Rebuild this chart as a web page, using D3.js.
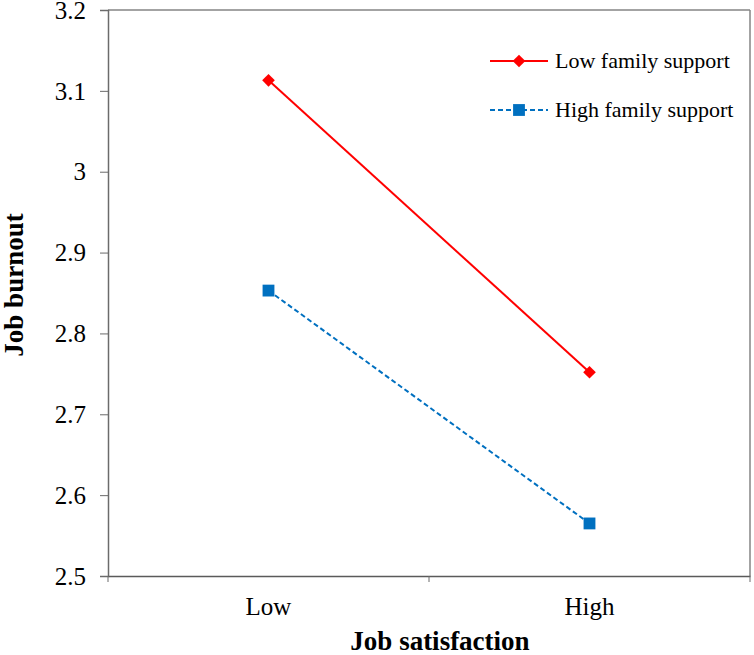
<!DOCTYPE html>
<html>
<head>
<meta charset="utf-8">
<script src="https://cdn.jsdelivr.net/npm/d3@7"></script>
<style>
  body { margin: 0; background: #fff; }
</style>
</head>
<body>
<div id="chart"></div>
<script>
const categories = ["Low", "High"];
const yTicks = [2.5, 2.6, 2.7, 2.8, 2.9, 3.0, 3.1, 3.2];
const yTickLabels = ["2.5", "2.6", "2.7", "2.8", "2.9", "3", "3.1", "3.2"];
const lowSupport = [3.113, 2.752];
const highSupport = [2.853, 2.565];

const width = 754;
const height = 655;

const margin = {
  top: 10,
  right: 4,
  bottom: 79,
  left: 108
};

const font = "Liberation Serif";

const svg = d3.select("#chart")
  .append("svg")
  .attr("width", width)
  .attr("height", height);

const xScale = d3.scaleBand()
  .domain(categories)
  .range([margin.left, width - margin.right])
  .padding(0);

const yScale = d3.scaleLinear()
  .domain([2.5, 3.2])
  .range([height - margin.bottom, margin.top]);

const series = [
  { name: "Low family support", values: lowSupport, color: "#ff0000", dash: null, marker: "diamond" },
  { name: "High family support", values: highSupport, color: "#0070c0", dash: "5,3", marker: "square" }
];

// diamond = square turned 45 degrees
const markerPath = {
  diamond: d3.symbol().type(d3.symbolSquare).size(80)(),
  square: d3.symbol().type(d3.symbolSquare).size(140)()
};
const markerRotate = { diamond: 45, square: 0 };

// Frame (top and right)
svg.append("line")
  .attr("x1", margin.left)
  .attr("x2", width - margin.right)
  .attr("y1", margin.top)
  .attr("y2", margin.top)
  .attr("stroke", "#858585")
  .attr("stroke-width", 1.5);

svg.append("line")
  .attr("x1", width - margin.right)
  .attr("x2", width - margin.right)
  .attr("y1", margin.top)
  .attr("y2", height - margin.bottom)
  .attr("stroke", "#858585")
  .attr("stroke-width", 1.5);

// Y axis
const yAxis = svg.append("g")
  .attr("transform", `translate(${margin.left}, 0)`)
  .call(d3.axisLeft(yScale)
    .tickValues(yTicks)
    .tickSizeOuter(0)
    .tickSize(8)
    .tickFormat(""));

yAxis.select(".domain").attr("stroke", "#6b6b6b").attr("stroke-width", 1.5);
yAxis.selectAll(".tick line").attr("stroke", "#6b6b6b");

svg.selectAll(".y-label")
  .data(yTicks)
  .enter()
  .append("text")
  .attr("class", "y-label")
  .attr("x", 86)
  .attr("y", d => yScale(d))
  .attr("dy", "0.35em")
  .attr("text-anchor", "end")
  .attr("font-family", font)
  .attr("font-size", 25)
  .attr("fill", "#000")
  .text((d, i) => yTickLabels[i]);

// X axis
const xAxis = svg.append("g")
  .attr("transform", `translate(0, ${height - margin.bottom})`)
  .call(d3.axisBottom(xScale).tickSize(0).tickFormat(""));

xAxis.select(".domain").attr("stroke", "#5a5a5a").attr("stroke-width", 1.5);

svg.selectAll(".x-label")
  .data(categories)
  .enter()
  .append("text")
  .attr("class", "x-label")
  .attr("x", d => xScale(d) + xScale.bandwidth() / 2)
  .attr("y", 615)
  .attr("text-anchor", "middle")
  .attr("font-family", font)
  .attr("font-size", 25)
  .attr("fill", "#000")
  .text(d => d);

// X tick marks between categories
const boundaries = [xScale("Low"), xScale("High"), xScale("High") + xScale.bandwidth()];
svg.selectAll(".x-tick")
  .data(boundaries)
  .enter()
  .append("line")
  .attr("x1", d => d)
  .attr("x2", d => d)
  .attr("y1", height - margin.bottom)
  .attr("y2", height - margin.bottom + 6)
  .attr("stroke", "#6b6b6b");

const line = d3.line()
  .x((d, i) => xScale(categories[i]) + xScale.bandwidth() / 2)
  .y(d => yScale(d));

series.forEach(function(s) {
  svg.append("path")
    .datum(s.values)
    .attr("fill", "none")
    .attr("stroke", s.color)
    .attr("stroke-width", 2)
    .attr("stroke-dasharray", s.dash)
    .attr("d", line);

  svg.selectAll(null)
    .data(s.values)
    .enter()
    .append("path")
    .attr("transform", (d, i) =>
      `translate(${xScale(categories[i]) + xScale.bandwidth() / 2}, ${yScale(d)}) rotate(${markerRotate[s.marker]})`)
    .attr("d", markerPath[s.marker])
    .attr("fill", s.color);
});

// Legend
series.forEach(function(s, i) {
  const ly = 61 + i * 49;

  svg.append("line")
    .attr("x1", 490)
    .attr("x2", 548)
    .attr("y1", ly)
    .attr("y2", ly)
    .attr("stroke", s.color)
    .attr("stroke-width", 2)
    .attr("stroke-dasharray", s.dash);

  svg.append("path")
    .attr("transform", `translate(519, ${ly}) rotate(${markerRotate[s.marker]})`)
    .attr("d", markerPath[s.marker])
    .attr("fill", s.color);

  svg.append("text")
    .attr("x", 555)
    .attr("y", ly + 7)
    .attr("font-family", font)
    .attr("font-size", 22)
    .attr("fill", "#000")
    .text(s.name);
});

// Axis titles
svg.append("text")
  .attr("x", 440)
  .attr("y", 650)
  .attr("text-anchor", "middle")
  .attr("font-family", font)
  .attr("font-size", 27)
  .attr("font-weight", "bold")
  .attr("fill", "#000")
  .text("Job satisfaction");

svg.append("text")
  .attr("x", -285)
  .attr("y", 23)
  .attr("transform", "rotate(-90)")
  .attr("text-anchor", "middle")
  .attr("font-family", font)
  .attr("font-size", 27)
  .attr("font-weight", "bold")
  .attr("fill", "#000")
  .text("Job burnout");
</script>
</body>
</html>
